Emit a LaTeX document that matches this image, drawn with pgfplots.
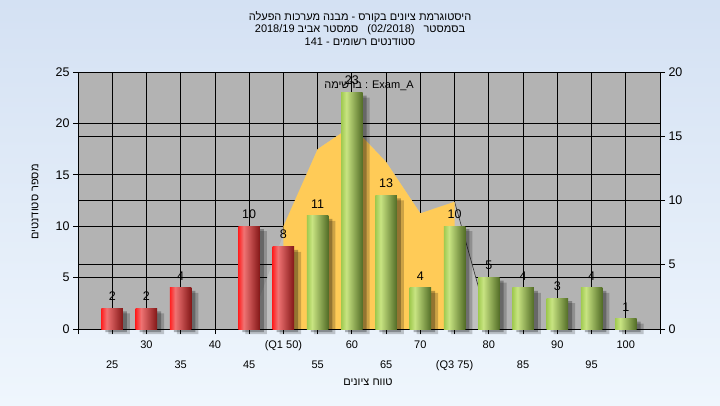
\documentclass[border=0pt]{standalone}
\usepackage{fontspec}
\setmainfont{Liberation Sans}
\newfontfamily\hebfont[Script=Hebrew]{Liberation Sans}
\usepackage{pgfplots}
\pgfplotsset{compat=1.18}
\TeXXeTstate=1

\definecolor{bgtop}{RGB}{212,225,243}
\definecolor{bgbot}{RGB}{239,246,253}
\definecolor{plotbg}{RGB}{179,179,179}
\definecolor{shadowbg}{RGB}{192,192,192}
\definecolor{areayel}{RGB}{255,203,87}
\definecolor{redA}{RGB}{255,35,35}
\definecolor{redB}{RGB}{240,115,115}
\definecolor{redC}{RGB}{130,22,22}
\definecolor{grnA}{RGB}{160,202,80}
\definecolor{grnB}{RGB}{200,228,130}
\definecolor{grnC}{RGB}{82,108,38}

% bar shading: bright edge, highlight, dark right side
\pgfdeclarehorizontalshading{redbar}{100bp}{color(0bp)=(redA); color(25bp)=(redA); color(37bp)=(redB); color(75bp)=(redC); color(100bp)=(redC)}
\pgfdeclarehorizontalshading{grnbar}{100bp}{color(0bp)=(grnA); color(25bp)=(grnA); color(37bp)=(grnB); color(75bp)=(grnC); color(100bp)=(grnC)}

\newcommand\smallfont{\fontsize{11bp}{13bp}\selectfont}
\newcommand\bigfont{\fontsize{12.5bp}{14bp}\selectfont}

\pgfplotsset{
    cyl/.style={ybar, bar width=21.5bp, bar shift=0pt, draw=none, shading=#1,
        nodes near coords,
        every node near coord/.append style={font=\bigfont, black, inner sep=0pt, yshift=7.5bp}},
}

\begin{document}
\begin{tikzpicture}[x=1bp,y=1bp]
\shade[top color=bgtop, bottom color=bgbot] (0,0) rectangle (720,405);

% right axis: background, grid and the Q1-Q3 area
\begin{axis}[
    at={(78bp,76bp)}, anchor=south west,
    width=582bp, height=257bp, scale only axis,
    xmin=20, xmax=105, ymin=0, ymax=20,
    axis background/.style={fill=plotbg},
    axis line style={black, line width=0.8bp},
    xtick={25,30,...,100}, xticklabels={}, xmajorgrids,
    x tick style={draw=none},
    ytick={0,5,10,15,20}, ytick pos=right, ymajorgrids,
    extra y ticks={4,8,12,16}, extra y tick labels={},
    extra y tick style={grid=major, tick style={draw=none}},
    grid style={black, line width=0.8bp},
    tick align=outside, major tick length=5bp,
    y tick style={black, line width=0.8bp},
    yticklabel style={font=\bigfont},
    /pgf/number format/assume math mode=true,
]
\addplot[fill=shadowbg, draw=none] coordinates {
    (44.8,0) (52.3,10.6) (55,14) (60,15.8) (65,13) (70,9) (75,9.9) (80.2,0)
};
\addplot[gray!40!black, line width=0.6bp] coordinates {
    (75,9.9) (80.2,0)
};
\addplot[fill=areayel, draw=none] coordinates {
    (50,0) (50,8) (55,14) (60,15.8) (65,13) (70,9) (75,9.9) (75,0)
};
\end{axis}

% left axis: bars
\begin{axis}[
    at={(78bp,76bp)}, anchor=south west,
    width=582bp, height=257bp, scale only axis,
    xmin=20, xmax=105, ymin=0, ymax=25,
    axis line style={black, line width=0.8bp},
    ytick={0,5,...,25}, ytick pos=left,
    xtick={30,40,...,100},
    xticklabels={30,40,(Q1 50),60,70,80,90,100},
    extra x ticks={25,35,...,95},
    extra x tick labels={25,35,45,55,65,(Q3 75),85,95},
    extra x tick style={tick label style={yshift=-20bp}},
    minor xtick={20,105},
    xtick pos=bottom,
    tick align=outside, major tick length=5bp, minor tick length=5bp,
    tick style={black, line width=0.8bp},
    xticklabel style={font=\smallfont, yshift=-3bp},
    yticklabel style={font=\bigfont},
    /pgf/number format/assume math mode=true,
    clip=false,
]
% soft drop shadows
\addplot[ybar, bar width=21.5bp, bar shift=7bp, draw=none, fill=black, fill opacity=0.2, yshift=-5bp] coordinates {
    (25,2) (30,2) (35,4) (45,10) (50,8) (55,11) (60,23) (65,13)
    (70,4) (75,10) (80,5) (85,4) (90,3) (95,4) (100,1)
};
\addplot[ybar, bar width=21.5bp, bar shift=4bp, draw=none, fill=black, fill opacity=0.28, yshift=-3bp] coordinates {
    (25,2) (30,2) (35,4) (45,10) (50,8) (55,11) (60,23) (65,13)
    (70,4) (75,10) (80,5) (85,4) (90,3) (95,4) (100,1)
};
% one plot per bar so that each bar gets its own shading
\addplot[cyl=redbar] coordinates {(25,2)};
\addplot[cyl=redbar] coordinates {(30,2)};
\addplot[cyl=redbar] coordinates {(35,4)};
\addplot[cyl=redbar] coordinates {(45,10)};
\addplot[cyl=redbar] coordinates {(50,8)};
\addplot[cyl=grnbar] coordinates {(55,11)};
\addplot[cyl=grnbar] coordinates {(60,23)};
\addplot[cyl=grnbar] coordinates {(65,13)};
\addplot[cyl=grnbar] coordinates {(70,4)};
\addplot[cyl=grnbar] coordinates {(75,10)};
\addplot[cyl=grnbar] coordinates {(80,5)};
\addplot[cyl=grnbar] coordinates {(85,4)};
\addplot[cyl=grnbar] coordinates {(90,3)};
\addplot[cyl=grnbar] coordinates {(95,4)};
\addplot[cyl=grnbar] coordinates {(100,1)};
\end{axis}

\node[font=\smallfont] at (369,319) {\hebfont\beginR ברשימה\endR{} : Exam\_A};

\node[font=\smallfont] at (360,388) {\hebfont\beginR היסטוגרמת ציונים בקורס - מבנה מערכות הפעלה\endR};
\node[font=\smallfont] at (360,375) {\hebfont\beginR בסמסטר\hspace{6bp} \beginL(02/2018)\endL\hspace{6bp} סמסטר אביב \beginL2018/19\endL\endR};
\node[font=\smallfont] at (360,363) {\hebfont\beginR סטודנטים רשומים - \beginL141\endL\endR};

\node[font=\smallfont, rotate=90] at (35,203) {\hebfont\beginR מספר סטודנטים\endR};
\node[font=\smallfont] at (368,23) {\hebfont\beginR טווח ציונים\endR};
\end{tikzpicture}
\end{document}
